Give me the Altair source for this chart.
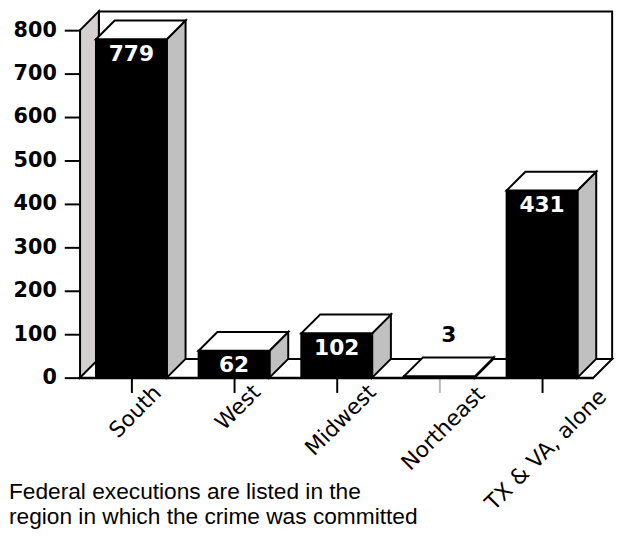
import altair as alt
import pandas as pd

# ---- data ----
categories = ["South", "West", "Midwest", "Northeast", "TX & VA, alone"]
executions = [779, 62, 102, 3, 431]
y_ticks = [0, 100, 200, 300, 400, 500, 600, 700, 800]
caption_lines = ["Federal executions are listed in the",
                 "region in which the crime was committed"]

# ---- layout / style constants ----
W, H = 520, 352
N = len(categories)
YMAX = y_ticks[-1]
DEPTH_PX = 19
DX = DEPTH_PX / (W / N)        # 3-D depth in x data units
DY = DEPTH_PX / (H / YMAX)     # 3-D depth in y data units
HALF = 0.345                   # half bar width in band units
FONT = "DejaVu Sans"
CAP_FONT = "Liberation Sans"
SIDE_GRAY = "#c0c0c0"
WALL_GRAY = "#d4d0d0"
SW = 2

centers = [i + 0.5 for i in range(N)]
front = pd.DataFrame({"cat": categories, "value": executions, "xc": centers})
front["x0"] = front.xc - HALF
front["x1"] = front.xc + HALF
front["xt"] = front.xc + DX / 2
front["ytop"] = front.value + DY

tops = pd.DataFrame({
    "cat": categories * 2,
    "y": executions + [v + DY for v in executions],
    "xa": list(front.x0) + list(front.x0 + DX),
    "xb": list(front.x1) + list(front.x1 + DX),
})
sides = pd.DataFrame({
    "cat": categories * 2,
    "x": list(front.x1) + list(front.x1 + DX),
    "ya": [0] * N + [DY] * N,
    "yb": executions + [v + DY for v in executions],
})
floor = pd.DataFrame({"y": [0, DY], "xa": [0, DX], "xb": [N, N + DX]})
leftwall = pd.DataFrame({"x": [0, DX], "ya": [0, DY], "yb": [YMAX, YMAX + DY]})
backwall = pd.DataFrame({"xa": [DX], "xb": [N + DX], "ya": [DY], "yb": [YMAX + DY]})

xs = alt.Scale(domain=[0, N], nice=False, zero=False)
ys = alt.Scale(domain=[0, YMAX], nice=False)

faint_tick = f"datum.value == {centers[categories.index('Northeast')]}"
x_axis = alt.Axis(
    values=centers, labels=False, title=None, tickSize=15, tickWidth=SW,
    domainWidth=SW, domainColor="black", grid=False,
    tickColor=alt.condition(faint_tick, alt.value("#b8b8b8"), alt.value("black")))
y_axis = alt.Axis(
    values=y_ticks, title=None, tickSize=16, tickWidth=SW, domainWidth=SW,
    domainColor="black", tickColor="black", grid=False, labelPadding=8,
    labelFont=FONT, labelFontSize=21, labelFontWeight="bold", labelColor="black")


def X(f):
    return alt.X(f, scale=xs, axis=x_axis)


def Y(f):
    return alt.Y(f, scale=ys, axis=y_axis)


back = alt.Chart(backwall).mark_rect(fill="white", stroke="black", strokeWidth=SW).encode(
    x=X("xa:Q"), x2="xb:Q", y=Y("ya:Q"), y2="yb:Q")

lwall = alt.Chart(leftwall).mark_area(orient="vertical", fill=WALL_GRAY, stroke="black",
                                      strokeWidth=SW, strokeJoin="miter").encode(
    x=X("x:Q"), y=Y("ya:Q"), y2="yb:Q")

flr = alt.Chart(floor).mark_area(orient="horizontal", fill="white", stroke="black",
                                 strokeWidth=SW, strokeJoin="miter").encode(
    y=Y("y:Q"), x=X("xa:Q"), x2="xb:Q")

side = alt.Chart(sides).mark_area(orient="vertical", fill=SIDE_GRAY, stroke="black",
                                  strokeWidth=SW, strokeJoin="miter").encode(
    x=X("x:Q"), y=Y("ya:Q"), y2="yb:Q", detail="cat:N")

fr = alt.Chart(front).mark_rect(fill="black", stroke="black", strokeWidth=SW).encode(
    x=X("x0:Q"), x2="x1:Q", y=Y("value:Q"), y2=alt.datum(0))

top = alt.Chart(tops).mark_area(orient="horizontal", fill="white", stroke="black",
                                strokeWidth=SW, strokeJoin="miter").encode(
    y=Y("y:Q"), x=X("xa:Q"), x2="xb:Q", detail="cat:N")

inlab = alt.Chart(front).transform_filter("datum.value >= 30").mark_text(
    color="white", font=FONT, fontSize=22, fontWeight="bold", baseline="top", dy=5).encode(
    x=X("xc:Q"), y=Y("value:Q"), text="value:Q")

uplab = alt.Chart(front).transform_filter("datum.value < 30").mark_text(
    color="black", font=FONT, fontSize=22, fontWeight="bold", baseline="alphabetic", dy=-16).encode(
    x=X("xt:Q"), y=Y("ytop:Q"), text="value:Q")

xlab = alt.Chart(front).transform_calculate(
    ly=f"-(13 + length(datum.cat) * 4.3) / {H / YMAX}").mark_text(
    angle=315, align="center", baseline="middle", font=FONT, fontSize=22,
    color="black", xOffset=4).encode(
    x=X("xc:Q"), y=Y("ly:Q"), text="cat:N")

cap1 = alt.Chart(pd.DataFrame({"t": [caption_lines[0]]})).mark_text(
    align="left", baseline="alphabetic", font=CAP_FONT, fontSize=23, color="black").encode(
    x=alt.value(-72), y=alt.value(475), text="t:N")
cap2 = alt.Chart(pd.DataFrame({"t": [caption_lines[1]]})).mark_text(
    align="left", baseline="alphabetic", font=CAP_FONT, fontSize=23, color="black").encode(
    x=alt.value(-72), y=alt.value(500), text="t:N")

chart = alt.layer(back, lwall, flr, side, fr, top, inlab, uplab, xlab, cap1, cap2).properties(
    width=W, height=H,
    autosize=alt.AutoSizeParams(type="none"),
    padding={"left": 73, "top": 19, "right": 30, "bottom": 161},
).configure_view(stroke=None)

chart.save("out.html", embed_options={"renderer": "svg", "actions": False})
